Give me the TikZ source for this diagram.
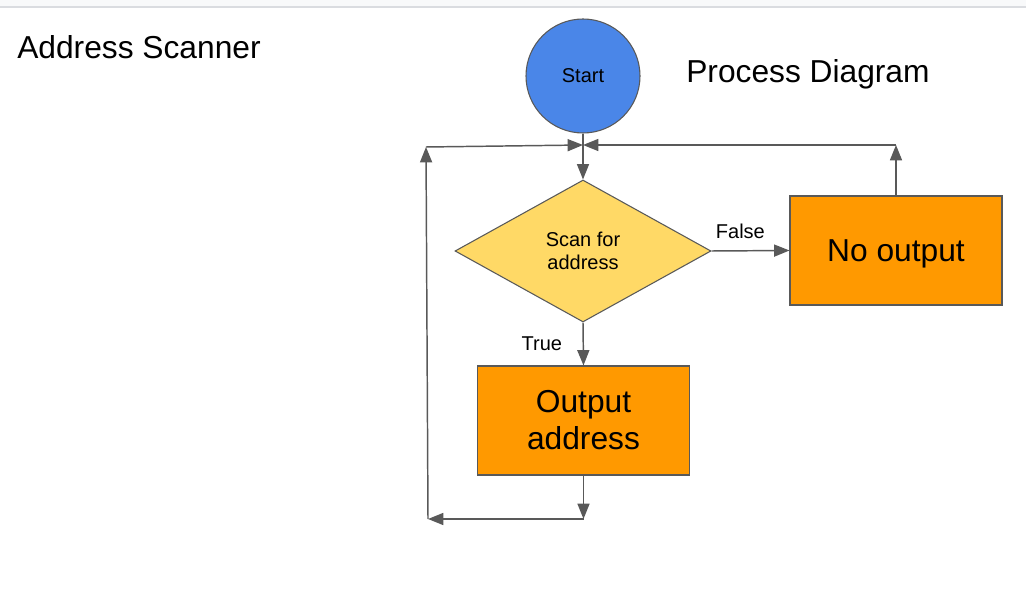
\documentclass[tikz,border=0pt]{standalone}
\usepackage{fontspec}
\setmainfont{Liberation Sans}
\usetikzlibrary{shapes.geometric,arrows.meta}
\definecolor{lineg}{HTML}{595959}
\definecolor{cblue}{HTML}{4A86E8}
\definecolor{cyellow}{HTML}{FFD966}
\definecolor{corange}{HTML}{FF9900}
\definecolor{barbg}{HTML}{F8F9FA}
\definecolor{barline}{HTML}{DADCE0}
\tikzset{
  big/.style={font=\fontsize{23.8pt}{27.75pt}\selectfont},
  small/.style={font=\fontsize{15pt}{17.25pt}\selectfont},
  shapeborder/.style={draw=lineg, line width=0.8pt},
  procbox/.style={shapeborder, fill=corange, rectangle, inner sep=0pt,
     minimum width=159pt, minimum height=81.75pt, align=center, big},
  conn/.style={draw=lineg, line width=1.1pt, -{Triangle[length=11.5pt,width=9pt]}},
}
\begin{document}
\begin{tikzpicture}[x=0.75pt,y=-0.75pt]
\useasboundingbox (0,0) rectangle (1026,598);
\fill[barbg] (0,0) rectangle (1026,7);
\draw[barline, line width=0.8pt] (0,7) -- (1026,7);

\node[big, anchor=base west, inner sep=0pt] (title) at (17,59) {Address Scanner};
\node[big, anchor=base west, inner sep=0pt] (subtitle) at (686,83) {Process Diagram};

\node[circle, shapeborder, fill=cblue, minimum size=85.5pt, inner sep=0pt, small] (start) at (583,76) {Start};
\node[diamond, shapeborder, fill=cyellow, minimum width=192pt, minimum height=106.5pt, inner sep=0pt, aspect=1.8, align=center, small] (scan) at (583,251) {Scan for\\address};
\node[procbox, text depth=0pt] (noout) at (896,250.5) {No output};
\node[procbox] (out) at (583.5,420.5) {Output\\address};

\coordinate (jtop) at (583,145);
\coordinate (tl) at (426,147);
\coordinate (bl) at (428,519);
\coordinate (bb) at (583.5,519);
\coordinate (tr) at (896,145);

\draw[conn] (start) -- (scan);
\draw[conn] (scan.east) -- node[small, above=5pt, pos=0.37] (flabel) {False} (noout.west);
\draw[conn] (scan.south) -- node[small, left=12pt, pos=0.5] (tlabel) {True} (out.north);
\draw[conn] (out.south) -- (bb);
\draw[conn] (bb) -- (bl);
\draw[conn] (bl) -- (tl);
\draw[conn] (tl) -- (jtop);
\draw[conn] (noout.north) -- (tr);
\draw[conn] (tr) -- (jtop);
\end{tikzpicture}
\end{document}
